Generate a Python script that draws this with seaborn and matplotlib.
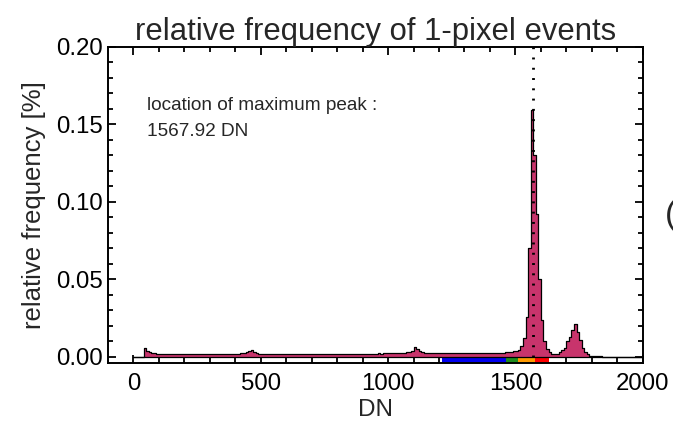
import numpy as np
import pandas as pd
import matplotlib
matplotlib.use("Agg")
import matplotlib.pyplot as plt
import seaborn as sns

# ---------------- data ----------------
bin_width = 10  # DN
# relative frequency [%] per 10-DN bin, 0 ... 1990 DN (one row = 100 DN)
freq_0000 = [0, 0, 0, 0, 0.0058, 0.0040, 0.0030, 0.0026, 0.0022, 0.0021]
freq_0100 = [0.0020, 0.0019, 0.0020, 0.0018, 0.0019, 0.0018, 0.0017, 0.0018, 0.0017, 0.0018]
freq_0200 = [0.0017, 0.0016, 0.0017, 0.0016, 0.0017, 0.0016, 0.0017, 0.0016, 0.0016, 0.0017]
freq_0300 = [0.0016, 0.0017, 0.0016, 0.0016, 0.0017, 0.0018, 0.0017, 0.0018, 0.0019, 0.0020]
freq_0400 = [0.0020, 0.0021, 0.0022, 0.0025, 0.0030, 0.0040, 0.0046, 0.0030, 0.0022, 0.0019]
freq_0500 = [0.0018, 0.0017, 0.0017, 0.0016, 0.0017, 0.0016, 0.0016, 0.0017, 0.0016, 0.0016]
freq_0600 = [0.0016, 0.0015, 0.0016, 0.0016, 0.0015, 0.0016, 0.0016, 0.0015, 0.0016, 0.0016]
freq_0700 = [0.0015, 0.0016, 0.0016, 0.0017, 0.0016, 0.0017, 0.0016, 0.0017, 0.0017, 0.0018]
freq_0800 = [0.0017, 0.0018, 0.0018, 0.0017, 0.0018, 0.0019, 0.0018, 0.0019, 0.0019, 0.0020]
freq_0900 = [0.0020, 0.0019, 0.0020, 0.0021, 0.0020, 0.0021, 0.0022, 0.0021, 0.0022, 0.0022]
freq_1000 = [0.0022, 0.0023, 0.0022, 0.0023, 0.0024, 0.0025, 0.0026, 0.0028, 0.0032, 0.0040]
freq_1100 = [0.0062, 0.0050, 0.0038, 0.0030, 0.0027, 0.0025, 0.0024, 0.0023, 0.0022, 0.0022]
freq_1200 = [0.0022, 0.0023, 0.0022, 0.0023, 0.0022, 0.0023, 0.0024, 0.0023, 0.0022, 0.0023]
freq_1300 = [0.0023, 0.0024, 0.0023, 0.0024, 0.0025, 0.0024, 0.0025, 0.0024, 0.0025, 0.0024]
freq_1400 = [0.0024, 0.0025, 0.0026, 0.0025, 0.0026, 0.0027, 0.0028, 0.0030, 0.0032, 0.0036]
freq_1500 = [0.0035, 0.0045, 0.0070, 0.0120, 0.0260, 0.0700, 0.1590, 0.1300, 0.0920, 0.0500]
freq_1600 = [0.0240, 0.0100, 0.0050, 0.0030, 0.0018, 0.0015, 0.0020, 0.0030, 0.0042, 0.0060]
freq_1700 = [0.0100, 0.0130, 0.0170, 0.0215, 0.0160, 0.0110, 0.0060, 0.0030, 0.0015, 0.0008]
freq_1800 = [0.0005, 0.0004, 0.0003, 0.0003, 0.0002, 0.0002, 0.0002, 0.0002, 0.0001, 0.0001]
freq_1900 = [0.0001, 0.0001, 0.0001, 0.0001, 0.0001, 0.0001, 0.0001, 0.0001, 0.0001, 0.0001]

peak_location = 1567.92  # DN

# coloured energy bands under the histogram
band_edges = [1212, 1464, 1512, 1575, 1630]
band_colors = ["#0000f0", "#1e8c1e", "#ff9a00", "#ff0000"]

x_ticks = [0, 500, 1000, 1500, 2000]
y_ticks = [0.00, 0.05, 0.10, 0.15, 0.20]
y_tick_labels = ["0.00", "0.05", "0.10", "0.15", "0.20"]

# ---------------- assemble ----------------
freq = np.concatenate([freq_0000, freq_0100, freq_0200, freq_0300, freq_0400,
                       freq_0500, freq_0600, freq_0700, freq_0800, freq_0900,
                       freq_1000, freq_1100, freq_1200, freq_1300, freq_1400,
                       freq_1500, freq_1600, freq_1700, freq_1800, freq_1900])
edges = [float(e) for e in np.arange(0, bin_width * len(freq) + 1, bin_width)]
df = pd.DataFrame({"DN": np.array(edges[:-1]) + bin_width / 2, "freq": freq})

# ---------------- style ----------------
sns.set_theme(style="ticks")
plt.rcParams["font.family"] = ["Liberation Sans", "DejaVu Sans"]
plt.rcParams["axes.linewidth"] = 1.4

fig = plt.figure(figsize=(6.73, 4.23), dpi=100)
ax = fig.add_axes([0.1605, 0.1418, 0.7945, 0.7472])

y_bottom = -0.004
# coloured band strip below zero
for x0, x1, c in zip(band_edges[:-1], band_edges[1:], band_colors):
    ax.fill_between([x0, x1], y_bottom, 0, color=c, linewidth=0, zorder=1)

sns.histplot(data=df, x="DN", weights="freq", bins=edges, element="step", fill=True,
             color="#c8346c", alpha=1, edgecolor="black", linewidth=0.9,
             ax=ax, zorder=2)

ax.vlines(peak_location, 0, 0.2, colors="black", linestyles=(0, (0.7, 3.0)),
          linewidth=2.0, zorder=3)

ax.set_xlim(-100, 2000)
ax.set_ylim(y_bottom, 0.2)
ax.set_xticks(x_ticks)
ax.set_xticks(np.arange(0, 2001, 100), minor=True)
ax.set_yticks(y_ticks)
ax.set_yticklabels(y_tick_labels)
ax.set_yticks(np.arange(0, 0.2001, 0.01), minor=True)
ax.tick_params(which="both", direction="in", top=True, right=True,
               colors="black", width=1.3)
ax.tick_params(which="major", length=6, labelsize=17.3)
ax.tick_params(which="minor", length=3.5)
ax.tick_params(axis="x", which="major", pad=7)
ax.tick_params(axis="y", which="major", pad=4)

for s in ax.spines.values():
    s.set_color("black")

ax.set_xlabel("DN", fontsize=17.5, labelpad=3)
ax.set_ylabel("relative frequency [%]", fontsize=18.5, labelpad=7)
ax.set_title("relative frequency of 1-pixel events", fontsize=22.3, pad=5)

ax.text(0.073, 0.80, "location of maximum peak :", transform=ax.transAxes,
        fontsize=13.7, va="baseline", ha="left")
ax.text(0.073, 0.718, f"{peak_location:.2f} DN", transform=ax.transAxes,
        fontsize=13.7, va="baseline", ha="left")

fig.text(0.988, 0.49, "(", fontsize=24, va="center", ha="left")

fig.savefig("out.png", dpi=100)
